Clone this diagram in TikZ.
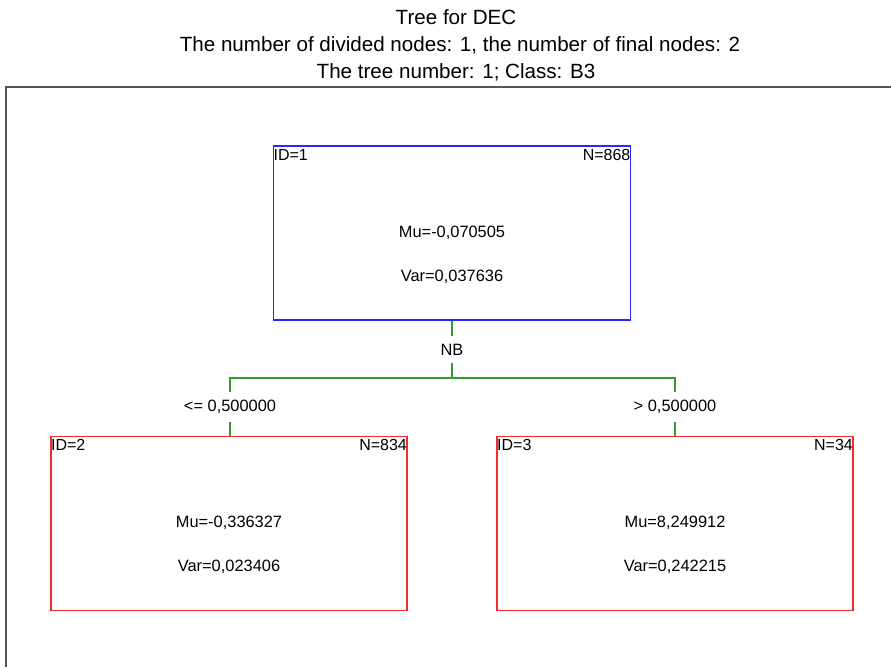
\documentclass[tikz,border=0pt]{standalone}
\usepackage{fontspec}
\setmainfont{Liberation Sans}
\definecolor{boxblue}{RGB}{40,40,255}
\definecolor{boxred}{RGB}{240,45,45}
\definecolor{linkgreen}{RGB}{50,155,50}
\definecolor{framegray}{RGB}{85,85,85}
\begin{document}
\begin{tikzpicture}[x=1pt,y=-1pt,
  titletext/.style={font=\fontsize{20.6}{23}\selectfont, anchor=base, inner sep=0pt},
  splitbox/.style={draw=boxblue, line width=1.1pt, minimum width=357pt, minimum height=174pt, inner sep=0pt},
  leafbox/.style={draw=boxred, line width=1.1pt, minimum width=356pt, minimum height=174pt, inner sep=0pt},
  cornertext/.style={font=\fontsize{16}{18}\selectfont, inner xsep=0.5pt, inner ysep=3.5pt},
  valtext/.style={font=\fontsize{16.4}{18}\selectfont, anchor=base, inner sep=0pt},
  cuttext/.style={font=\fontsize{16.4}{18}\selectfont, inner sep=0pt},
  branch/.style={draw=linkgreen, line width=1.1pt},
  frame/.style={draw=framegray, line width=2.3pt}]
\useasboundingbox (0,0) rectangle (891,667);
\fill[white] (0,0) rectangle (891,667);

% headings
\node[titletext] (t1) at (456,24) {Tree for DEC};
\node[titletext] (t2) at (460,51) {The number of divided nodes: 1, the number of final nodes: 2};
\node[titletext] (t3) at (456,78) {The tree number: 1; Class: B3};

% plot frame
\draw[frame] (6.2,667) -- (6.2,87) -- (891,87);

% split node
\node[splitbox] (root) at (452,233) {};
\node[cornertext, anchor=north west] (root-id) at (root.north west) {ID=1};
\node[cornertext, anchor=north east] (root-n) at (root.north east) {N=868};
\node[valtext] (root-mu) at ([yshift=-92pt]root.north) {Mu=-0,070505};
\node[valtext] (root-var) at ([yshift=-136pt]root.north) {Var=0,037636};

% leaves
\node[leafbox] (left) at (229,523.5) {};
\node[cornertext, anchor=north west] (left-id) at (left.north west) {ID=2};
\node[cornertext, anchor=north east] (left-n) at (left.north east) {N=834};
\node[valtext] (left-mu) at ([yshift=-92pt]left.north) {Mu=-0,336327};
\node[valtext] (left-var) at ([yshift=-136pt]left.north) {Var=0,023406};

\node[leafbox] (right) at (675,523.5) {};
\node[cornertext, anchor=north west] (right-id) at (right.north west) {ID=3};
\node[cornertext, anchor=north east] (right-n) at (right.north east) {N=34};
\node[valtext] (right-mu) at ([yshift=-92pt]right.north) {Mu=8,249912};
\node[valtext] (right-var) at ([yshift=-136pt]right.north) {Var=0,242215};

% split variable and cut labels
\node[cuttext, minimum height=27pt] (nb) at (452,349.5) {NB};
\node[cuttext, minimum height=30pt] (le) at (230,407) {<= 0,500000};
\node[cuttext, minimum height=30pt] (gt) at (675,407) {> 0,500000};
\coordinate (junction) at (452,378);

% connectors
\draw[branch] (root.south) -- (nb.north);
\draw[branch] (nb.south) -- (junction) -| (le.north);
\draw[branch] (junction) -| (gt.north);
\draw[branch] (le.south) -- (le.south |- left.north);
\draw[branch] (gt.south) -- (gt.south |- right.north);
\end{tikzpicture}
\end{document}
